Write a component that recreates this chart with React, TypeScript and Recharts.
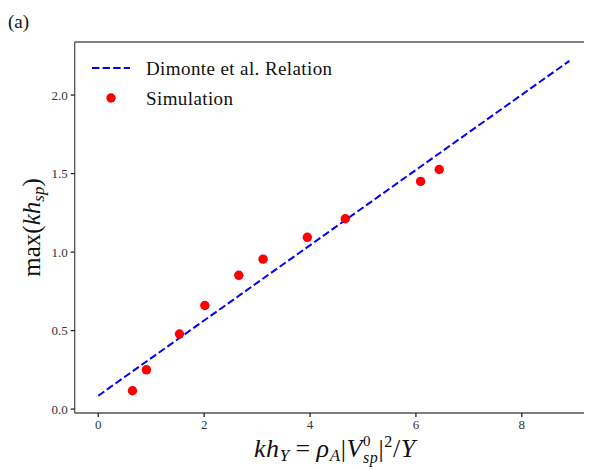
import React from "react";
import { ScatterChart, Scatter, XAxis, YAxis, ReferenceLine } from "recharts";

const simX = [0.646, 0.91, 1.534, 2.013, 2.655, 3.113, 3.949, 4.666, 6.089, 6.44];
const simY = [0.117, 0.25, 0.478, 0.66, 0.852, 0.955, 1.094, 1.212, 1.45, 1.526];
const relX = [0, 8.9];
const relY = [0.085, 2.218];
const xTicks = [0, 2, 4, 6, 8];
const yTicks = [0, 0.5, 1.0, 1.5, 2.0];

const simData = simX.map((x, i) => ({ x, y: simY[i] }));
const relData = relX.map((x, i) => ({ x, y: relY[i] }));

const FONT = "'Liberation Serif', 'DejaVu Serif', serif";
const AXIS = "#555";
const Y_TOP = 2.338;

const XLabel = (props: any) => {
  const vb = props.viewBox || {};
  const cx = vb.x + vb.width / 2 + 1;
  const y = 449;
  return (
    <g>
      <text x={cx} y={y} textAnchor="middle" fontFamily={FONT} fontSize={26} fill="#111" letterSpacing={0.6}>
        <tspan fontStyle="italic">kh</tspan>
        <tspan fontStyle="italic" fontSize={17} dy={4}>Y</tspan>
        <tspan dy={-4}>{"\u2009=\u2009"}</tspan>
        <tspan fontStyle="italic">ρ</tspan>
        <tspan fontStyle="italic" fontSize={17} dy={4}>A</tspan>
        <tspan dy={-4}>|</tspan>
        <tspan fontStyle="italic">V</tspan>
        <tspan fontSize={15} dy={-11}>0</tspan>
        <tspan fontStyle="italic" fontSize={16} dy={17} dx={-8}>sp</tspan>
        <tspan dy={-6}>|</tspan>
        <tspan fontSize={16} dy={-10}>2</tspan>
        <tspan dy={10}>/</tspan>
        <tspan fontStyle="italic">Y</tspan>
      </text>
    </g>
  );
};

const YLabel = (props: any) => {
  const vb = props.viewBox || {};
  const cy = vb.y + vb.height / 2;
  const x = 32;
  return (
    <text
      x={x}
      y={cy}
      textAnchor="middle"
      transform={`rotate(-90, ${x}, ${cy})`}
      fontFamily={FONT}
      fontSize={25}
      fill="#111"
    >
      <tspan>max(</tspan>
      <tspan fontStyle="italic">kh</tspan>
      <tspan fontStyle="italic" fontSize={17} dy={4}>sp</tspan>
      <tspan dy={-4}>)</tspan>
    </text>
  );
};

const LegendBox = () => (
  <svg
    width={320}
    height={60}
    style={{ position: "absolute", left: 82, top: 52, display: "block", overflow: "visible" }}
  >
    <line x1={2} y1={8} x2={40} y2={8} stroke="#0000ff" strokeWidth={2} strokeDasharray="7.4 3.2" />
    <text x={56} y={14.5} fontFamily={FONT} fontSize={19} letterSpacing={0.4} fill="#111">Dimonte et al. Relation</text>
    <circle cx={21} cy={38} r={4.7} fill="#ff0000" />
    <text x={56} y={44.5} fontFamily={FONT} fontSize={19} letterSpacing={0.4} fill="#111">Simulation</text>
  </svg>
);

const RedDot = (props: any) => {
  const { cx, cy } = props;
  if (cx == null || cy == null) return <g />;
  return <circle cx={cx} cy={cy} r={4.7} fill="#ff0000" />;
};

const NoDot = () => <g />;

export default function App() {
  return (
    <div style={{ position: "relative", width: 584, height: 462, overflow: "hidden", background: "#fff" }}>
      <div
        style={{
          position: "absolute",
          left: 0,
          top: 3,
          fontFamily: FONT,
          fontSize: 19,
          color: "#111",
        }}
      >
        (a)
      </div>
      <ScatterChart
        width={586}
        height={462}
        margin={{ top: 34, right: 1, bottom: 7, left: 6.7 }}
      >
        <XAxis
          type="number"
          dataKey="x"
          domain={[-0.445, 9.345]}
          ticks={xTicks}
          allowDataOverflow
          height={50}
          stroke={AXIS}
          strokeWidth={1.3}
          tickSize={4}
          tickLine={{ stroke: "#222" }}
          tick={{ fontFamily: FONT, fontSize: 13, fill: "#333" }}
          tickMargin={3}
          label={<XLabel />}
        />
        <YAxis
          type="number"
          dataKey="y"
          domain={[-0.025, Y_TOP]}
          ticks={yTicks}
          allowDataOverflow
          width={60}
          stroke={AXIS}
          strokeWidth={1.3}
          tickSize={4}
          tickLine={{ stroke: "#222" }}
          tick={{ fontFamily: FONT, fontSize: 13, fill: "#333" }}
          tickMargin={3}
          tickFormatter={(v: number) => v.toFixed(1)}
          label={<YLabel />}
        />
        <ReferenceLine y={Y_TOP} stroke={AXIS} strokeWidth={1.3} />
        <Scatter
          name="Dimonte et al. Relation"
          data={relData}
          line={{ stroke: "#0000ff", strokeWidth: 2, strokeDasharray: "7.4 3.2" }}
          shape={<NoDot />}
          isAnimationActive={false}
        />
        <Scatter
          name="Simulation"
          data={simData}
          shape={<RedDot />}
          fill="#ff0000"
          isAnimationActive={false}
        />
      </ScatterChart>
      <LegendBox />
    </div>
  );
}
